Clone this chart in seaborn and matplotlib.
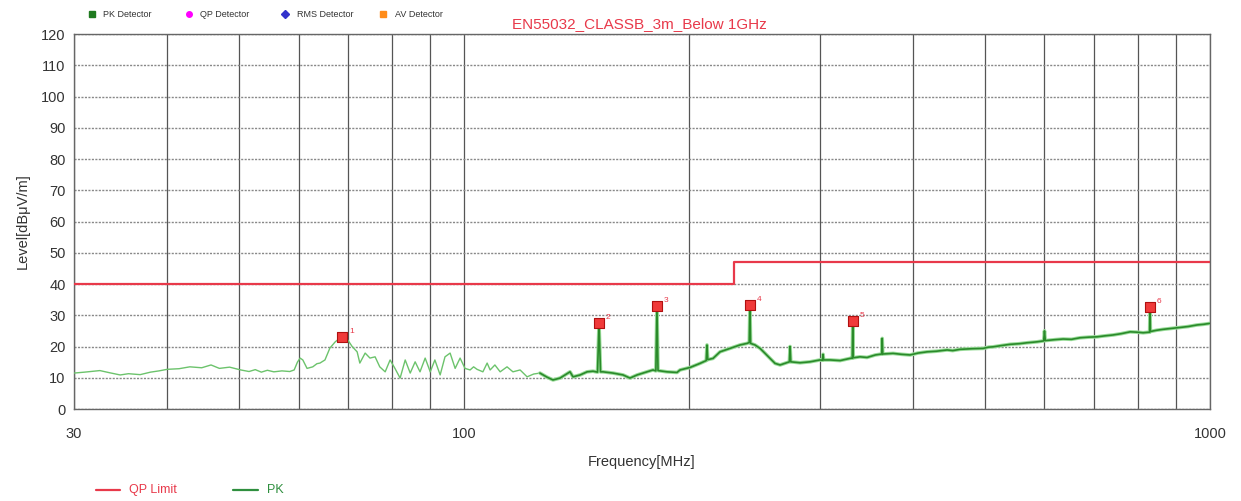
import numpy as np
import pandas as pd
import matplotlib
matplotlib.use("Agg")
import matplotlib.pyplot as plt
import seaborn as sns
from matplotlib.lines import Line2D

# ---------------- data ----------------
pk_freq = [30.0, 31.0, 32.5, 33.5, 34.6, 35.5, 36.8, 38.0, 39.0, 40.0, 41.5, 42.9, 44.5, 45.8,
           47.0, 48.5, 50.2, 51.5, 52.5, 53.5, 54.5, 55.6, 57.0, 58.4, 59.2, 59.8, 60.3, 60.8,
           61.6, 62.7, 63.5, 64.1, 65.1, 66.1, 67.2, 68.2, 68.6, 69.3, 69.9, 70.8, 71.9, 72.5,
           73.7, 74.8, 76.0, 77.1, 78.4, 79.6, 80.8, 82.1, 83.4, 84.7, 86.0, 87.3, 88.7, 90.1,
           91.4, 92.9, 94.3, 95.8, 97.3, 98.8, 100.3, 101.9, 103.0, 104.1, 106.0, 107.4, 108.4,
           110.0, 111.8, 114.2, 116.3, 118.9, 121.5, 124.0, 126.4, 129.2, 131.6, 134.5, 138.7,
           140.0, 143.1, 146.2, 148.9, 151.0, 151.7, 152.4, 153.6, 158.4, 163.4, 166.9, 170.6,
           175.9, 179.2, 180.8, 181.4, 182.0, 187.1, 193.0, 194.8, 200.9, 207.2, 211.2, 211.7,
           212.2, 215.7, 220.4, 227.3, 234.4, 239.6, 241.2, 241.7, 242.2, 245.5, 249.4, 253.3,
           257.2, 261.2, 265.3, 273.0, 273.6, 274.2, 282.1, 290.9, 300.0, 302.3, 302.9, 303.5,
           309.7, 319.3, 329.2, 331.5, 332.0, 332.5, 339.5, 347.0, 356.0, 363.0, 363.6, 364.2,
           376.0, 386.0, 396.2, 406.0, 417.6, 430.0, 444.2, 452.0, 462.4, 480.0, 496.5, 505.0,
           512.0, 525.0, 539.5, 555.0, 568.6, 586.3, 598.5, 600.0, 601.5, 620.0, 635.5, 652.0,
           669.7, 688.0, 705.6, 722.0, 741.6, 760.0, 781.6, 797.0, 813.6, 830.0, 831.0, 832.0,
           848.0, 865.2, 888.0, 911.9, 935.0, 960.9, 980.0, 1000.0]
pk_level = [11.5, 11.8, 12.3, 11.6, 10.9, 11.3, 11.0, 11.8, 12.2, 12.7, 12.9, 13.5, 13.2, 14.1,
            13.0, 13.4, 12.5, 12.0, 12.6, 11.8, 12.4, 11.9, 12.2, 12.0, 12.5, 15.0, 16.3, 15.7,
            13.0, 13.5, 14.5, 14.7, 15.7, 19.5, 21.5, 22.7, 23.0, 21.5, 22.0, 20.0, 18.3, 14.7,
            17.9, 16.3, 16.7, 13.5, 11.9, 15.7, 13.0, 9.9, 15.7, 11.5, 15.1, 11.9, 16.3, 11.9,
            15.7, 10.9, 16.7, 17.9, 13.0, 16.3, 13.0, 12.5, 13.5, 12.7, 11.9, 14.7, 12.5,
            14.1, 11.9, 13.5, 11.9, 12.5, 10.3, 11.2, 11.5, 10.2, 9.3, 9.9, 11.9,
            10.3, 10.9, 11.9, 12.1, 11.8, 27.5, 11.9, 11.9, 11.5, 10.9, 9.9, 10.9,
            11.9, 12.5, 12.2, 33.0, 12.3, 11.9, 11.7, 12.5, 13.3, 14.6, 15.5, 20.5,
            15.8, 16.2, 18.3, 19.4, 20.5, 21.0, 21.3, 33.3, 21.0, 20.5, 19.4, 17.8,
            16.2, 14.6, 14.1, 15.1, 20.0, 15.1, 14.8, 15.1, 15.7, 15.6, 17.5, 15.7,
            15.7, 15.5, 16.2, 16.3, 28.2, 16.4, 16.7, 16.5, 17.3, 17.6, 22.6, 17.6,
            17.8, 17.5, 17.3, 17.9, 18.3, 18.5, 18.9, 18.7, 19.1, 19.3, 19.4, 19.8,
            19.9, 20.3, 20.7, 20.9, 21.2, 21.5, 21.8, 25.0, 21.9, 22.2, 22.4, 22.3,
            22.8, 23.0, 23.1, 23.4, 23.7, 24.1, 24.7, 24.6, 24.4, 24.6, 32.6, 24.8,
            25.2, 25.5, 25.8, 26.1, 26.4, 26.9, 27.1, 27.4]

limit_freq = [30, 230, 230, 1000]
limit_level = [40, 40, 47, 47]

marker_no = ["1", "2", "3", "4", "5", "6"]
marker_freq = [68.6, 151.7, 181.4, 241.7, 332.0, 831.0]
marker_level = [23.0, 27.5, 33.0, 33.3, 28.2, 32.6]

x_ticks = [30, 100, 1000]
x_ticklabels = ["30", "100", "1000"]
y_ticks = list(range(0, 121, 10))

title = "EN55032_CLASSB_3m_Below 1GHz"
detectors = ["PK Detector", "QP Detector", "RMS Detector", "AV Detector"]
detector_colors = ["#1f7a1f", "#ff00ff", "#3333cc", "#ff8c1a"]
detector_markers = ["s", "o", "D", "s"]

# ---------------- plot ----------------
sns.set_style("white")
plt.rcParams["font.family"] = ["Liberation Sans", "DejaVu Sans"]

fig = plt.figure(figsize=(12.41, 5.01), dpi=100)
ax = fig.add_axes([0.0596, 0.1836, 0.9154, 0.7485])

pk = pd.DataFrame({"freq": pk_freq, "level": pk_level})
lim = pd.DataFrame({"freq": limit_freq, "level": limit_level})
mk = pd.DataFrame({"freq": marker_freq, "level": marker_level, "no": marker_no})

low = pk[pk["freq"] <= 128]
high = pk[pk["freq"] >= 126]

sns.lineplot(data=low, x="freq", y="level", ax=ax, color="#6cc36c", lw=1.0,
             sort=False, estimator=None, zorder=3)
sns.lineplot(data=high, x="freq", y="level", ax=ax, color="#9adc9a", lw=2.6,
             sort=False, estimator=None, zorder=3)
sns.lineplot(data=high, x="freq", y="level", ax=ax, color="#2a8a2a", lw=1.2,
             sort=False, estimator=None, zorder=4)
sns.lineplot(data=lim, x="freq", y="level", ax=ax, color="#e8394a", lw=1.6,
             sort=False, estimator=None, zorder=5)
sns.scatterplot(data=mk, x="freq", y="level", ax=ax, marker="s", s=55,
                color="#f03a3a", edgecolor="#b01010", linewidth=0.8, zorder=6)
for _, r in mk.iterrows():
    ax.annotate(r["no"], (r["freq"], r["level"]), xytext=(5, 3),
                textcoords="offset points", fontsize=6, color="#e8394a")

ax.set_xscale("log")
ax.set_xlim(30, 1000)
ax.set_ylim(0, 120)
ax.set_xticks(x_ticks)
ax.set_xticklabels(x_ticklabels)
ax.set_xticks([40, 50, 60, 70, 80, 90, 200, 300, 400, 500, 600, 700, 800, 900], minor=True)
ax.xaxis.set_minor_formatter(matplotlib.ticker.NullFormatter())
ax.set_yticks(y_ticks)
ax.tick_params(axis="both", labelsize=10.5, colors="#333333", length=0, pad=6)
ax.tick_params(axis="x", which="major", pad=13)
ax.tick_params(axis="x", which="minor", length=0)

ax.grid(True, axis="x", which="both", color="#555555", lw=0.9, ls="-")
ax.grid(True, axis="y", which="major", color="#888888", lw=1.0, ls=(0, (1.5, 1.0)))
ax.set_axisbelow(True)
for s in ax.spines.values():
    s.set_color("#666666")
    s.set_linewidth(1.0)

ax.set_xlabel("Frequency[MHz]", fontsize=10.5, color="#333333", labelpad=10)
ax.set_ylabel("Level[dBμV/m]", fontsize=10.5, color="#333333", labelpad=8)

fig.text(0.515, 0.953, title, fontsize=11, color="#e8394a", ha="center", va="center",
         zorder=20)

xs = [0.074, 0.152, 0.230, 0.309]
for x, lab, c, m in zip(xs, detectors, detector_colors, detector_markers):
    fig.lines.append(Line2D([x], [0.972], transform=fig.transFigure, marker=m,
                            ms=4, color=c, ls="none"))
    fig.text(x + 0.009, 0.972, lab, fontsize=6.5, color="#333333", va="center")

# bottom legend
fig.lines.append(Line2D([0.077, 0.097], [0.022, 0.022], transform=fig.transFigure,
                        color="#e8394a", lw=1.6))
fig.text(0.104, 0.022, "QP Limit", fontsize=9, color="#e8394a", va="center")
fig.lines.append(Line2D([0.188, 0.208], [0.022, 0.022], transform=fig.transFigure,
                        color="#2f8f3f", lw=1.6))
fig.text(0.215, 0.022, "PK", fontsize=9, color="#2f8f3f", va="center")

fig.savefig("out.png", dpi=100, facecolor="white")
